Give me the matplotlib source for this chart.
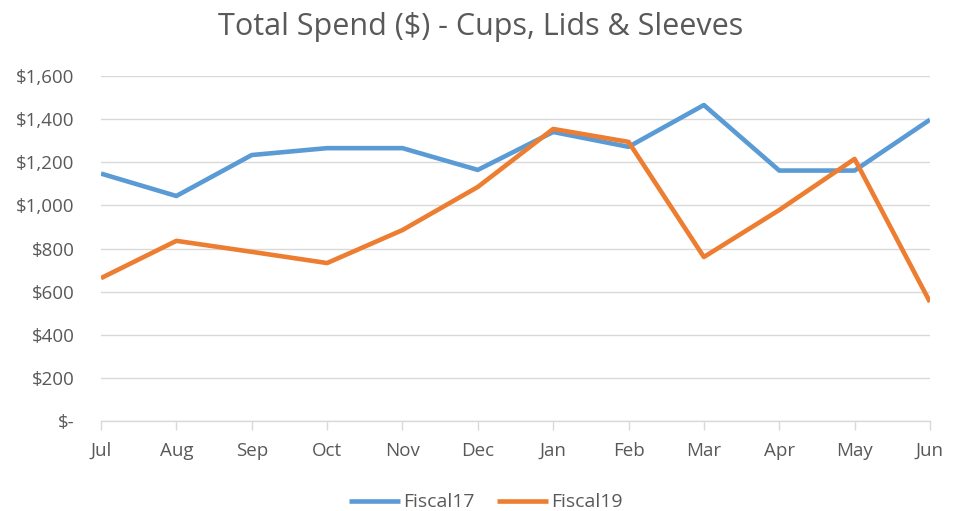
import matplotlib
matplotlib.use("Agg")
from matplotlib import pyplot as plt
from matplotlib.ticker import FuncFormatter

months = ['Jul', 'Aug', 'Sep', 'Oct', 'Nov', 'Dec', 'Jan', 'Feb', 'Mar', 'Apr', 'May', 'Jun']
fiscal17 = [1148, 1044, 1234, 1266, 1266, 1165, 1341, 1272, 1466, 1162, 1162, 1398]
fiscal19 = [663, 836, 785, 733, 886, 1086, 1355, 1295, 761, 979, 1216, 552]

plt.rcParams['font.family'] = ['Open Sans', 'DejaVu Sans']
text_color = '#595959'

fig = plt.figure(figsize=(9.62, 5.11), dpi=100)
ax = fig.add_axes([0.105, 0.176, 0.8617, 0.675])

x = list(range(len(months)))
ax.plot(x, fiscal17, color='#5B9BD5', lw=3.3, solid_joinstyle='round', solid_capstyle='butt', label='Fiscal17', zorder=3)
ax.plot(x, fiscal19, color='#ED7D31', lw=3.3, solid_joinstyle='round', solid_capstyle='butt', label='Fiscal19', zorder=4)

ax.set_xlim(0, len(months) - 1)
ax.set_ylim(0, 1600)
ax.set_yticks(range(0, 1601, 200))
ax.yaxis.set_major_formatter(FuncFormatter(lambda v, p: '$-' if v == 0 else '${:,.0f}'.format(v)))
ax.set_xticks(x)
ax.set_xticklabels(months)

ax.grid(axis='y', color='#D9D9D9', lw=1)
ax.set_axisbelow(True)
for side in ['top', 'right', 'left']:
    ax.spines[side].set_visible(False)
ax.spines['bottom'].set_color('#D9D9D9')
ax.spines['bottom'].set_linewidth(1)

ax.tick_params(axis='y', length=0, pad=19, labelsize=13.5, labelcolor=text_color)
ax.tick_params(axis='x', length=6.5, width=1, color='#D9D9D9', pad=8.5, labelsize=13.5, labelcolor=text_color)

fig.suptitle('Total Spend ($) - Cups, Lids & Sleeves', x=0.5, y=0.976, fontsize=22,
             color=text_color)

fig.legend(loc='center', bbox_to_anchor=(0.505, 0.017), ncol=2, frameon=False,
           fontsize=14, labelcolor=text_color, handlelength=2.6, columnspacing=1.2,
           handletextpad=0.15)

fig.savefig('out.png', dpi=100)
